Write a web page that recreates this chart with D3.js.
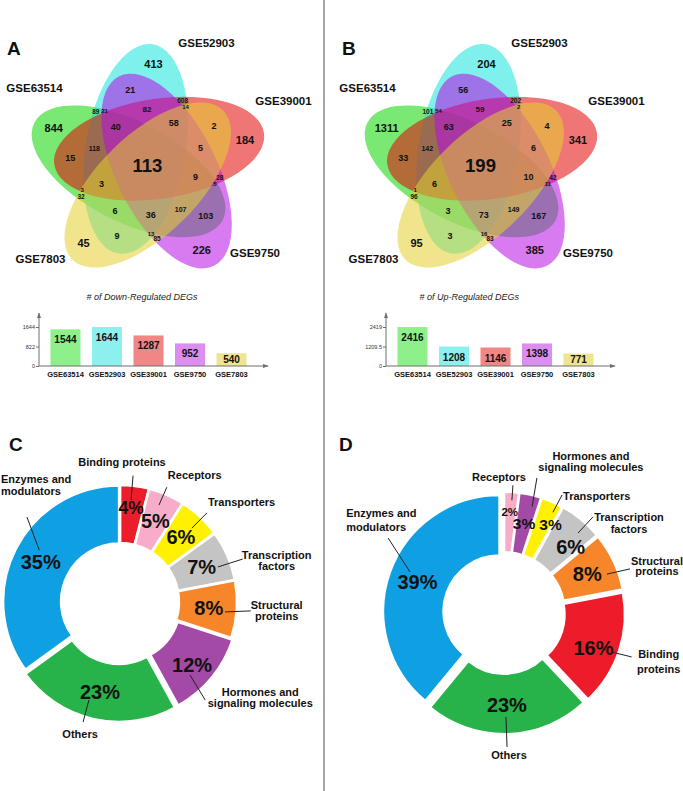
<!DOCTYPE html>
<html>
<head>
<meta charset="utf-8">
<script src="https://cdn.jsdelivr.net/npm/d3@7"></script>
<style>
html,body{margin:0;padding:0;background:#fff;}
svg{display:block;}
text{font-family:"Liberation Sans",Arial,Helvetica,sans-serif;}
</style>
</head>
<body>
<svg id="fig" width="683" height="791"></svg>
<script>
// ================= DATA =================
const setNames   = ["GSE63514","GSE52903","GSE39001","GSE9750","GSE7803"];
const setLetters = ["G","C","R","M","Y"];   // G=GSE63514 C=GSE52903 R=GSE39001 M=GSE9750 Y=GSE7803

// Venn regions (membership) and their counts
const regionSets = ["G","C","R","M","Y",
  "GC","CR","RM","MY","YG",
  "CM","RY","MG","YC","GR",
  "CRM","RMY","MYG","YGC","GCR",
  "GCM","CRY","RMG","MYC","YGR",
  "GCRM","CRMY","RMYG","MYGC","YGCR",
  "GCRMY"];
const downRegionCounts = [844,413,184,226,45, 89,608,28,85,32, 21,2,103,9,15, 82,5,107,6,118, 21,14,5,13,3, 40,58,9,36,3, 113];
const upRegionCounts   = [1311,204,341,385,95, 101,202,42,83,96, 56,4,167,3,33, 59,6,149,3,142, 54,2,11,16,1, 63,25,10,73,6, 199];

// Bar charts
const downTotals = [1544,1644,1287,952,540];
const upTotals   = [2416,1208,1146,1398,771];
const downTicks  = [0,822,1644];
const upTicks    = [0,1209.5,2419];
const downTitle  = "# of Down-Regulated DEGs";
const upTitle    = "# of Up-Regulated DEGs";

// Donuts
const catsC = ["Binding proteins","Receptors","Transporters","Transcription factors","Structural proteins","Hormones and signaling molecules","Others","Enzymes and modulators"];
const pctC  = [4,5,6,7,8,12,23,35];
const catsD = ["Receptors","Hormones and signaling molecules","Transporters","Transcription factors","Structural proteins","Binding proteins","Others","Enzymes and modulators"];
const pctD  = [2,3,3,6,8,16,23,39];

// ================= STYLE / LAYOUT =================
const vennColors = ["rgb(11,215,0)","rgb(22,228,220)","rgb(228,6,6)","rgb(184,13,228)","rgb(228,208,46)"];
const barColors  = ["#8df08a","#8cf0ee","#f08686","#dc8df0","#f0e48e"];
const catColor = {
  "Enzymes and modulators":"#0fa0e3","Others":"#27b24a","Hormones and signaling molecules":"#a34aa6",
  "Structural proteins":"#f7862b","Transcription factors":"#c4c4c4","Transporters":"#fff100",
  "Receptors":"#f7adc9","Binding proteins":"#ec1c2a"};
const VENN = {r:20, phi:-36.5, psi:9.4, a:106, b:50, opacity:0.55};
const vennNameOffsets = [[-113,-73],[59,-118],[136,-60],[107.5,92],[-107,98]];
const font = '"Liberation Sans",Arial,Helvetica,sans-serif';

const layoutC = [
  {dIn:-1, rIn:102.6, dOut:-1.3, rOut:127, tx:-11, ty:-10, anchor:"middle"},
  {dIn:-1.5, rIn:104.5, dOut:-1.2, rOut:124, tx:1, ty:-8, anchor:"start"},
  {dIn:1, rIn:103, dOut:1.1, rOut:124.5, tx:1, ty:-7, anchor:"start"},
  {dIn:3.7, rIn:104, dOut:4.1, rOut:130, tx:34, ty:0, anchor:"middle", wrap:true, lh:11},
  {dIn:1.8, rIn:105.5, dOut:0.3, rOut:131, tx:26, ty:-2, anchor:"middle", wrap:true, lh:11},
  {dIn:6.6, rIn:101, dOut:9.4, rOut:130, tx:55, ty:-4, anchor:"middle", wrap:true, lh:11},
  {dIn:5, rIn:102.8, dOut:4.5, rOut:125.6, tx:-3, ty:16, anchor:"middle"},
  {dIn:5.7, rIn:96, dOut:15.4, rOut:126, tx:-26, ty:-34, anchor:"start", wrap:true, lh:12}
];
const layoutD = [
  {dIn:0.4, rIn:113, dOut:0.4, rOut:128, tx:-14, ty:-4, anchor:"middle"},
  {dIn:2.2, rIn:110, dOut:1.1, rOut:139, tx:54, ty:-18, anchor:"middle", wrap:true, lh:11},
  {dIn:2.5, rIn:112, dOut:2.8, rOut:131.5, tx:1, ty:5, anchor:"start"},
  {dIn:3.2, rIn:109, dOut:3.2, rOut:131, tx:36, ty:4, anchor:"middle", wrap:true, lh:12},
  {dIn:4.5, rIn:110, dOut:5.9, rOut:133.5, tx:27, ty:-4, anchor:"middle", wrap:true, lh:10.5},
  {dIn:1.9, rIn:115, dOut:1, rOut:135, tx:27, ty:1, anchor:"middle", wrap:true, lh:15},
  {dIn:0.7, rIn:104, dOut:0.5, rOut:134, tx:2, ty:12, anchor:"middle"},
  {dIn:3.8, rIn:102.6, dOut:13.1, rOut:138, tx:-42, ty:-21, anchor:"start", wrap:true, lh:14}
];

// ================= DRAW =================
const svg = d3.select("#fig");
const defs = svg.append("defs");
defs.append("marker").attr("id","arrow").attr("viewBox","0 0 10 10")
  .attr("refX",9).attr("refY",5).attr("markerWidth",6).attr("markerHeight",6)
  .attr("markerUnits","userSpaceOnUse").attr("orient","auto")
  .append("path").attr("d","M0,1.5L10,5L0,8.5Z").attr("fill","#6e6e6e");

// divider
svg.append("line").attr("x1",324).attr("x2",324).attr("y1",0).attr("y2",791)
  .attr("stroke","#8a8a8a").attr("stroke-width",1.5);

// panel letters
[["A",7,55],["B",342,55],["C",9,451],["D",339,451]].forEach(([t,x,y])=>{
  svg.append("text").attr("x",x).attr("y",y).text(t)
    .attr("font-size",19).attr("font-weight","bold").attr("fill","#111");
});

function isRun(idx){
  if (idx.length===5) return true;
  let ends = 0;
  idx.forEach(i=>{ if(!idx.includes((i+1)%5)) ends++; });
  return ends===1;
}
function regionFont(key, count){
  const idx = [...key].map(c=>setLetters.indexOf(c));
  const n = idx.length, digits = String(count).length;
  if (n===5) return 18.5;
  if (n===1) return 11;
  if (n===4) return 9;
  if (n===2) return isRun(idx) ? 6.5 : 9;
  if (n===3) return isRun(idx) ? (digits>=3 ? 7 : digits===2 ? 8 : 9) : 6;
  return 8;
}

// simple label repel so that neighbouring small counts do not overlap
function repel(labels){
  const box = d=>({w:String(d.v).length*0.58*d.fs+1.5, h:0.74*d.fs+1});
  for (let it=0; it<40; it++){
    let moved=false;
    for (let i=0;i<labels.length;i++) for (let j=i+1;j<labels.length;j++){
      const a=labels[i], b=labels[j], ba=box(a), bb=box(b);
      const dx=b.x-a.x, dy=b.y-a.y;
      const ox=(ba.w+bb.w)/2-Math.abs(dx), oy=(ba.h+bb.h)/2-Math.abs(dy);
      if (ox>0 && oy>0){
        moved=true;
        if (ox<oy){ const s=dx>=0?1:-1; a.x-=s*ox/2; b.x+=s*ox/2; }
        else { const s=dy>=0?1:-1; a.y-=s*oy/2; b.y+=s*oy/2; }
      }
    }
    if(!moved) break;
  }
}

function drawVenn(O, counts){
  const g = svg.append("g");
  const E = setNames.map((s,i)=>{
    const th = (-90 + 72*(i-1))*Math.PI/180;
    const ca = th + VENN.phi*Math.PI/180;
    return {i, cx:O[0]+VENN.r*Math.cos(ca), cy:O[1]+VENN.r*Math.sin(ca), ang: th + VENN.psi*Math.PI/180};
  });
  g.selectAll("ellipse").data(E).join("ellipse")
    .attr("cx",d=>d.cx).attr("cy",d=>d.cy).attr("rx",VENN.a).attr("ry",VENN.b)
    .attr("transform",d=>`rotate(${d.ang*180/Math.PI},${d.cx},${d.cy})`)
    .attr("fill",(d,i)=>vennColors[i]).attr("fill-opacity",VENN.opacity);

  // sample the plane to find a good interior point of each region
  const A=VENN.a, B=VENN.b, acc = {};
  for (let y=Math.floor(O[1]-140); y<=O[1]+140; y+=1){
    for (let x=Math.floor(O[0]-140); x<=O[0]+140; x+=1){
      let mask=0, depth=Infinity;
      for (const e of E){
        const dx=x-e.cx, dy=y-e.cy, c=Math.cos(e.ang), s=Math.sin(e.ang);
        const u=dx*c+dy*s, v=-dx*s+dy*c;
        const f=u*u/(A*A)+v*v/(B*B);
        if (f<1) mask |= 1<<e.i;
        const gr = 2*Math.sqrt(u*u/(A**4)+v*v/(B**4));
        const rho = Math.sqrt(u*u+v*v), sf=Math.sqrt(f);
        const radial = sf>0 ? Math.abs(1-1/sf)*rho : Math.min(A,B);
        const dist = Math.min(gr>0 ? Math.abs(f-1)/gr : Infinity, radial);
        if (dist<depth) depth=dist;
      }
      if (!mask) continue;
      const w = depth*depth*depth;
      const r = acc[mask] || (acc[mask]={w:0,x:0,y:0,n:0});
      r.w+=w; r.x+=x*w; r.y+=y*w; r.n++;
    }
  }
  const labels = regionSets.map((key,k)=>{
    let mask=0; [...key].forEach(c=>mask |= 1<<setLetters.indexOf(c));
    const r = acc[mask];
    return {x:r.x/r.w, y:r.y/r.w, v:counts[k], fs:regionFont(key,counts[k])};
  });
  repel(labels);
  g.selectAll("text.num").data(labels).join("text").attr("class","num")
    .attr("x",d=>d.x).attr("y",d=>d.y).attr("dy","0.36em")
    .attr("text-anchor","middle").attr("font-size",d=>d.fs).attr("font-weight","bold")
    .attr("fill","#111").text(d=>d.v);

  g.selectAll("text.set").data(setNames).join("text").attr("class","set")
    .attr("x",(d,i)=>O[0]+vennNameOffsets[i][0]).attr("y",(d,i)=>O[1]+vennNameOffsets[i][1])
    .attr("text-anchor","middle").attr("font-size",11.5).attr("font-weight","bold")
    .attr("fill","#111").text(d=>d);
}

function drawBars(x0, titleX, values, ticks, title){
  const g = svg.append("g");
  const y0 = 366;
  const x = d3.scaleBand().domain(setNames).range([x0, x0+219]).paddingInner(0.277).paddingOuter(0.277);
  const y = d3.scaleLinear().domain([0, ticks[ticks.length-1]]).range([y0, 327]);
  g.append("text").attr("x",titleX).attr("y",300).attr("font-size",9).attr("font-style","italic")
    .attr("fill","#222").text(title);
  g.selectAll("rect").data(values).join("rect")
    .attr("x",(d,i)=>x(setNames[i])).attr("y",d=>y(d))
    .attr("width",x.bandwidth()).attr("height",d=>y0-y(d))
    .attr("fill",(d,i)=>barColors[i]);
  g.selectAll("text.val").data(values).join("text").attr("class","val")
    .attr("x",(d,i)=>x(setNames[i])+x.bandwidth()/2)
    .attr("y",d=>Math.min(y(d)+14, 363))
    .attr("text-anchor","middle").attr("font-size",10).attr("font-weight","bold")
    .attr("fill","#111").text(d=>d);
  const ya = g.append("g").attr("transform",`translate(${x0},0)`)
    .call(d3.axisLeft(y).tickValues(ticks).tickSize(3).tickPadding(1).tickFormat(d=>String(d)));
  ya.select(".domain").remove();
  ya.selectAll("line").attr("stroke","#6e6e6e");
  ya.selectAll("text").attr("font-size",5.5).attr("fill","#333").attr("font-family",font);
  const xa = g.append("g").attr("transform",`translate(0,${y0})`)
    .call(d3.axisBottom(x).tickSize(0).tickPadding(6));
  xa.select(".domain").remove();
  xa.selectAll("text").attr("font-size",7.5).attr("font-weight","bold").attr("fill","#111").attr("font-family",font);
  g.append("line").attr("x1",x0).attr("y1",y0).attr("x2",x0).attr("y2",313)
    .attr("stroke","#6e6e6e").attr("stroke-width",1).attr("marker-end","url(#arrow)");
  g.append("line").attr("x1",x0).attr("y1",y0).attr("x2",x0+229).attr("y2",y0)
    .attr("stroke","#6e6e6e").attr("stroke-width",1).attr("marker-end","url(#arrow)");
}

function wrapName(name, wrap){
  if (!wrap) return [name];
  const w = name.split(" ");
  const k = w.indexOf("and");
  if (k>=0) return [w.slice(0,k+1).join(" "), w.slice(k+1).join(" ")];
  return [w[0], w.slice(1).join(" ")];
}
function pctFont(v){ return v<=2 ? 11.5 : v===3 ? 15.5 : v===4 ? 17.5 : 20; }

function drawDonut(C, cats, vals, layout, opt){
  const g = svg.append("g").attr("transform",`translate(${C[0]},${C[1]})`);
  const arcs = d3.pie().sort(null).value(d=>d)(vals);
  const arc = d3.arc().innerRadius(opt.r0).outerRadius(opt.r1);
  const rm = (opt.r0+opt.r1)/2 + 1;
  const lab = d3.arc().innerRadius(rm).outerRadius(rm);
  const mid = d=>(d.startAngle+d.endAngle)/2;
  const off = (d,i)=>[opt.explode[i]*Math.sin(mid(d)), -opt.explode[i]*Math.cos(mid(d))];
  g.selectAll("path").data(arcs).join("path")
    .attr("d",arc)
    .attr("transform",(d,i)=>{const o=off(d,i); return `translate(${o[0]},${o[1]})`;})
    .attr("fill",(d,i)=>catColor[cats[i]])
    .attr("stroke","#fff").attr("stroke-width",opt.stroke).attr("stroke-linejoin","miter");
  g.selectAll("text.pct").data(arcs).join("text").attr("class","pct")
    .attr("x",(d,i)=>lab.centroid(d)[0]+off(d,i)[0]+opt.nudge[i][0])
    .attr("y",(d,i)=>lab.centroid(d)[1]+off(d,i)[1]+opt.nudge[i][1])
    .attr("dy","0.36em").attr("text-anchor","middle")
    .attr("font-size",d=>pctFont(d.data)).attr("font-weight","bold").attr("fill","#111")
    .text(d=>d.data+"%");
  const polar = (a,r)=>[r*Math.sin(a), -r*Math.cos(a)];
  arcs.forEach((d,i)=>{
    const L = layout[i], m = mid(d), deg=Math.PI/180;
    const p0 = polar(m+L.dIn*deg, L.rIn), p1 = polar(m+L.dOut*deg, L.rOut);
    g.append("line").attr("x1",p0[0]).attr("y1",p0[1]).attr("x2",p1[0]).attr("y2",p1[1])
      .attr("stroke","#222").attr("stroke-width",1);
    const lines = wrapName(cats[i], L.wrap);
    const t = g.append("text").attr("text-anchor",L.anchor).attr("font-size",11)
      .attr("font-weight","bold").attr("fill","#111");
    lines.forEach((s,j)=>{
      t.append("tspan").attr("x",p1[0]+L.tx).attr("y",p1[1]+L.ty+j*(L.lh||11)).text(s);
    });
  });
}

drawVenn([147.5,165], downRegionCounts);
drawVenn([480.5,165], upRegionCounts);
drawBars(39, 86.5, downTotals, downTicks, downTitle);
drawBars(386, 419.5, upTotals, upTicks, upTitle);
drawDonut([120,602], catsC, pctC, layoutC, {r0:58, r1:116, stroke:2.5,
  explode:[1,1,1,1,1,3,4,1],
  nudge:[[0,-6],[0,0],[0,0],[0,0],[0,0],[2,5],[0,0],[0,0]]});
drawDonut([504,613], catsD, pctD, layoutD, {r0:56, r1:116, stroke:2,
  explode:[5,5,5,5,5,5,5,5],
  nudge:[[0,-9],[0,0],[10,-4],[8,5],[0,0],[2,6],[0,0],[0,0]]});
</script>
</body>
</html>
